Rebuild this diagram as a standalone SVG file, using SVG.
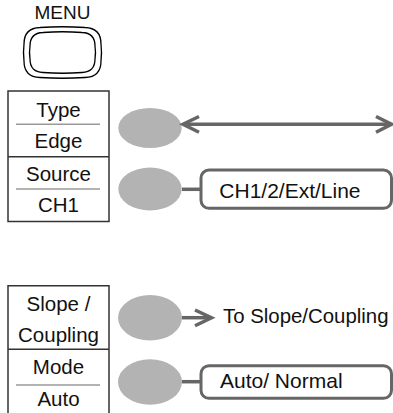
<svg xmlns="http://www.w3.org/2000/svg" width="393" height="413" viewBox="0 0 393 413">
<style>
text{font-family:"Liberation Sans",Arial,sans-serif;fill:#111;}
.lbl{font-size:20.5px;text-anchor:middle;}
.opt{font-size:21px;}
.frame{fill:#fff;stroke:#333;stroke-width:1.5;}
.sep{stroke:#999;stroke-width:1.5;}
.key{fill:#b3b3b3;stroke:none;}
.conn{stroke:#666;stroke-width:3.5;fill:none;}
.head{stroke:#666;stroke-width:3.5;fill:none;stroke-linecap:butt;stroke-linejoin:miter;}
.optbox{fill:#fff;stroke:#666;stroke-width:3;}
.btn{fill:#fff;stroke:#000;stroke-width:1.3;}
</style>
<g id="menu-button">
<text x="62.5" y="19" style="font-size:19px;text-anchor:middle">MENU</text>
<path class="btn" d="M40 27.5 Q62.5 26 85 27.5 Q101 28 101 44 Q102 52.5 101 61 Q101 77 85 77.5 Q62.5 79 40 77.5 Q24 77 24 61 Q23 52.5 24 44 Q24 28 40 27.5 Z"/>
<path class="btn" d="M43 32.5 Q62.5 31 82 32.5 Q95 33 95 46 Q96 52.5 95 59 Q95 72 82 72.5 Q62.5 74 43 72.5 Q30 72 30 59 Q29 52.5 30 46 Q30 33 43 32.5 Z"/>
</g>
<g id="menu-top">
<rect class="frame" x="8" y="91" width="101" height="130.5"/>
<line x1="8" y1="156.7" x2="109" y2="156.7" stroke="#333" stroke-width="1.5"/>
</g>
<g id="type-edge">
<text class="lbl" x="58.5" y="117">Type</text>
<line class="sep" x1="16" y1="124.3" x2="100" y2="124.3"/>
<text class="lbl" x="58.5" y="148.3">Edge</text>
<ellipse class="key" cx="150" cy="128" rx="31.7" ry="20"/>
</g>
<g id="source-ch1">
<text class="lbl" x="58.5" y="181">Source</text>
<line class="sep" x1="16" y1="189" x2="100" y2="189"/>
<text class="lbl" x="58.5" y="212.3">CH1</text>
<ellipse class="key" cx="150" cy="189" rx="31.7" ry="21.5"/>
</g>
<g id="source-options">
<rect class="optbox" x="201" y="170" width="190.5" height="38.3" rx="8"/>
<text class="opt" x="219.3" y="197.7">CH1/2/Ext/Line</text>
</g>
<g id="menu-bottom">
<path d="M8 413 V285.7 H109 V413" fill="#fff" stroke="#333" stroke-width="1.5"/>
<line x1="8" y1="349.3" x2="109" y2="349.3" stroke="#333" stroke-width="1.5"/>
</g>
<g id="slope-coupling">
<text class="lbl" x="58.5" y="311">Slope /</text>
<text class="lbl" x="58.5" y="341.7">Coupling</text>
<ellipse class="key" cx="150" cy="317.8" rx="32" ry="22.8"/>
</g>
<g id="slope-target">
<text x="223" y="323.3" style="font-size:20.4px">To Slope/Coupling</text>
</g>
<g id="mode-auto">
<text class="lbl" x="58.5" y="374.3">Mode</text>
<line class="sep" x1="16" y1="385" x2="100" y2="385"/>
<text class="lbl" x="58.5" y="406">Auto</text>
<ellipse class="key" cx="150" cy="382" rx="32" ry="22.8"/>
</g>
<g id="mode-options">
<rect class="optbox" x="201" y="365.7" width="190.5" height="32.6" rx="8"/>
<text class="opt" x="220" y="388.3">Auto/ Normal</text>
</g>
<g id="connectors">
<line class="conn" x1="183" y1="124.3" x2="391" y2="124.3"/>
<polyline class="head" points="199,116.5 183,124.3 199,132.3"/>
<polyline class="head" points="376,116.5 391.5,124.3 376,132.3"/>
<line class="conn" x1="182" y1="189.3" x2="201" y2="189.3"/>
<line class="conn" x1="182" y1="317.7" x2="210" y2="317.7"/>
<polyline class="head" points="195,310 211.5,317.7 195,325.7"/>
<line class="conn" x1="182" y1="381.7" x2="201" y2="381.7"/>
</g>
</svg>
